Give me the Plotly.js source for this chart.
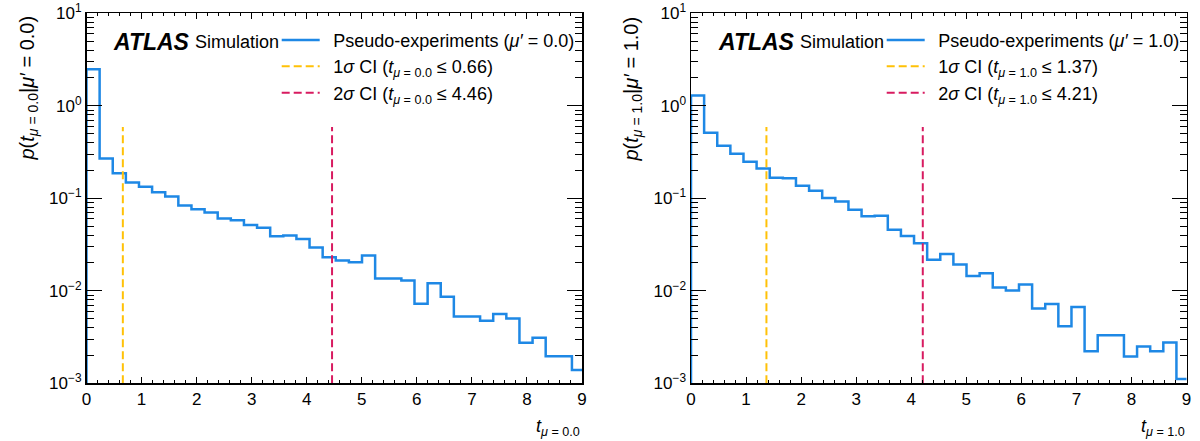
<!DOCTYPE html>
<html><head><meta charset="utf-8">
<script src="https://cdn.plot.ly/plotly-3.0.1.min.js"></script>
<style>html,body{margin:0;padding:0;background:#fff}</style>
</head><body>
<div id="chart" style="width:1200px;height:441px"></div>
<script>
// ---- data ----
const binWidth = 0.2383;  // histogram bin width in t
const pdfMuPrime0 = [2.48,0.269,0.187,0.148,0.133,0.116,0.1045,0.0836,0.0763,0.0703,0.0605,0.058,0.0513,0.0479,0.039,0.0397,0.0362,0.0294,0.0230,0.0213,0.0203,0.0241,0.0136,0.0136,0.01295,0.00724,0.0121,0.00861,0.00529,0.00529,0.00475,0.0056,0.00503,0.00275,0.00311,0.00196,0.00196,0.00139];
const pdfMuPrime1 = [1.29,0.511,0.370,0.303,0.249,0.2105,0.167,0.165,0.137,0.121,0.1005,0.0926,0.0754,0.0638,0.0649,0.0458,0.0391,0.0326,0.0217,0.0250,0.0192,0.01445,0.01545,0.01083,0.01005,0.01167,0.00643,0.00721,0.00414,0.00668,0.00222,0.0033,0.0033,0.00195,0.00250,0.00222,0.00276,0.00111];
const muPrime = ['0.0', '1.0'];
const ci1Sigma = [0.66, 1.37];
const ci2Sigma = [4.46, 4.21];
const ciLineTop = 0.59;
const yTickVals = [0.001, 0.01, 0.1, 1, 10];
const yTickText = ['10<sup>−3</sup>', '10<sup>−2</sup>', '10<sup>−1</sup>', '10<sup>0</sup>', '10<sup>1</sup>'];

// ---- styling ----
const FONT = 'Liberation Sans, Arial, Helvetica, sans-serif';
const BLUE = '#1e88e5', AMBER = '#ffc107', PINK = '#d81b60';
const W = 1200, H = 441;
const xDom = [[86.5 / W, 582 / W], [691 / W, 1186.5 / W]];
const yDom = [1 - 383.3 / H, 1 - 13.3 / H];
const GAP = '\u00A0\u2009'; // extra gap between legend sample and label

function stepXY(vals) {
  const x = [0], y = [1e-5];
  vals.forEach((v, i) => { x.push(i * binWidth); y.push(v); });
  x.push(vals.length * binWidth); y.push(vals[vals.length - 1]);
  return {x, y};
}

const minorY = [];
for (let e = -3; e < 1; e++) for (let k = 2; k <= 9; k++) minorY.push(k * Math.pow(10, e));

const traces = [];
const annotations = [];
const layout = {
  width: W, height: H, margin: {l: 0, r: 0, t: 0, b: 0},
  paper_bgcolor: '#fff', plot_bgcolor: '#fff',
  font: {family: FONT, size: 17, color: '#000'},
  showlegend: true,
  annotations
};

[pdfMuPrime0, pdfMuPrime1].forEach((vals, p) => {
  const xa = p === 0 ? 'x' : 'x2', ya = p === 0 ? 'y' : 'y2';
  const lg = p === 0 ? 'legend' : 'legend2';
  const mu = muPrime[p];
  const s = stepXY(vals);
  traces.push({
    type: 'scatter', mode: 'lines', x: s.x, y: s.y, xaxis: xa, yaxis: ya, legend: lg,
    line: {shape: 'hv', color: BLUE, width: 2.5},
    name: GAP + 'Pseudo-experiments (<i>μ′</i> = ' + mu + ')', hoverinfo: 'skip'
  });
  traces.push({
    type: 'scatter', mode: 'lines', x: [ci1Sigma[p], ci1Sigma[p]], y: [1e-3, ciLineTop], xaxis: xa, yaxis: ya, legend: lg,
    line: {color: AMBER, width: 2, dash: '8px,4px'},
    name: GAP + '1<i>σ</i> CI (<i>t</i><sub><i>μ</i> = ' + mu + '</sub> ≤ ' + ci1Sigma[p].toFixed(2) + ')', hoverinfo: 'skip'
  });
  traces.push({
    type: 'scatter', mode: 'lines', x: [ci2Sigma[p], ci2Sigma[p]], y: [1e-3, ciLineTop], xaxis: xa, yaxis: ya, legend: lg,
    line: {color: PINK, width: 2, dash: '8px,4px'},
    name: GAP + '2<i>σ</i> CI (<i>t</i><sub><i>μ</i> = ' + mu + '</sub> ≤ ' + ci2Sigma[p].toFixed(2) + ')', hoverinfo: 'skip'
  });

  const xKey = p === 0 ? 'xaxis' : 'xaxis2', yKey = p === 0 ? 'yaxis' : 'yaxis2';
  layout[xKey] = {
    domain: xDom[p], anchor: ya, range: [0, 9], showline: true, linecolor: '#000', linewidth: 1.5,
    mirror: 'allticks', ticks: 'inside', ticklen: 6, tickwidth: 1, tickcolor: '#000',
    tick0: 0, dtick: 1, showgrid: false, zeroline: false,
    minor: {dtick: 0.2, tick0: 0, ticks: 'inside', ticklen: 3, tickwidth: 1, tickcolor: '#000', showgrid: false},
    tickfont: {family: FONT, size: 17, color: '#000'}, fixedrange: true
  };
  layout[yKey] = {
    domain: yDom, anchor: xa, type: 'log', range: [-3, 1], showline: true, linecolor: '#000', linewidth: 1.5,
    mirror: 'allticks', ticks: 'inside', ticklen: 15, tickwidth: 1, tickcolor: '#000',
    tickmode: 'array', tickvals: yTickVals, ticktext: yTickText, showgrid: false, zeroline: false,
    minor: {tickmode: 'array', tickvals: minorY, ticks: 'inside', ticklen: 7, tickwidth: 1, tickcolor: '#000', showgrid: false},
    tickfont: {family: FONT, size: 17, color: '#000'}, fixedrange: true
  };
  layout[lg] = {
    x: (p === 0 ? 276.7 : 881.7) / W, xanchor: 'left', y: 1 - 21.7 / H, yanchor: 'top',
    bgcolor: 'rgba(0,0,0,0)', borderwidth: 0, itemwidth: 38,
    font: {family: FONT, size: 18, color: '#000'}, tracegroupgap: 0
  };

  const x0 = p === 0 ? 0 : 604;
  annotations.push({
    xref: 'paper', yref: 'paper', x: (x0 + 28) / W, y: 1 - 14 / H, xanchor: 'center', yanchor: 'top',
    textangle: -90, showarrow: false, font: {family: FONT, size: 20, color: '#000'},
    text: '<i>p</i>(<i>t</i><sub><i>μ</i> = ' + mu + '</sub>|<i>μ′</i> = ' + mu + ')'
  });
  annotations.push({
    xref: 'paper', yref: 'paper', x: xDom[p][1], y: 1 - 427 / H, xanchor: 'right', yanchor: 'middle',
    showarrow: false, font: {family: FONT, size: 18, color: '#000'},
    text: '<i>t</i><sub><i>μ</i> = ' + mu + '</sub>'
  });
  annotations.push({
    xref: 'paper', yref: 'paper', x: (p === 0 ? 111 : 716) / W, y: 1 - 42 / H, xanchor: 'left', yanchor: 'middle',
    showarrow: false, font: {family: FONT, size: 23, color: '#000'},
    text: '<b><i>ATLAS</i></b>'
  });
  annotations.push({
    xref: 'paper', yref: 'paper', x: (p === 0 ? 193 : 798) / W, y: 1 - 42 / H, xanchor: 'left', yanchor: 'middle',
    showarrow: false, font: {family: FONT, size: 18, color: '#000'},
    text: 'Simulation'
  });
});

Plotly.newPlot('chart', traces, layout, {staticPlot: true, displayModeBar: false});
</script>
</body></html>
